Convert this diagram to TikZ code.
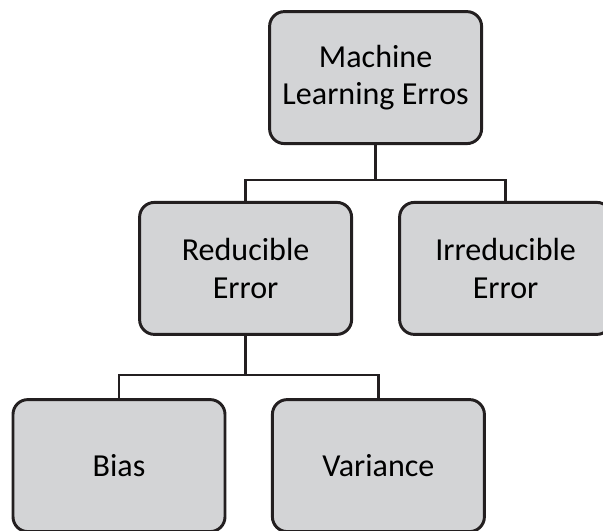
\documentclass[tikz,border=0pt]{standalone}
\usepackage{fontspec}
\setmainfont{Carlito}
\usepackage{xcolor}
\usepackage{tikz}
\definecolor{boxgray}{HTML}{D3D4D6}
\definecolor{boxline}{HTML}{231F20}
\tikzstyle{errbox}=[fill=boxgray, draw=boxline, line width=2.1pt, rounded corners=0.37cm, minimum width=5.3cm, minimum height=3.3cm, inner sep=0pt, align=center, font=\fontsize{22.8}{26.6}\selectfont]
\tikzstyle{tree edge}=[-, draw=boxline, line width=2.1pt]
\pgfdeclarelayer{nodelayer}
\pgfdeclarelayer{edgelayer}
\pgfsetlayers{edgelayer,nodelayer,main}

\begin{document}
\begin{tikzpicture}
        	\useasboundingbox (0, 0) rectangle (15.075, -13.25);
        	\begin{pgfonlayer}{nodelayer}
        		\node [style=errbox] (0) at (9.39, -1.94) {Machine\\Learning Erros};
        		\node [style=errbox] (1) at (6.14, -6.71) {Reducible\\Error};
        		\node [style=errbox] (2) at (12.64, -6.71) {Irreducible\\Error};
        		\node [style=errbox] (3) at (2.975, -11.64) {Bias};
        		\node [style=errbox] (4) at (9.46, -11.64) {Variance};
        		\coordinate (5) at (9.39, -4.5);
        		\coordinate (6) at (6.14, -9.375);
        	\end{pgfonlayer}
        	\begin{pgfonlayer}{edgelayer}
        		\draw [style=tree edge] (0) -- (5);
        		\draw [style=tree edge] (1.north) |- (5) -| (2.north);
        		\draw [style=tree edge] (1) -- (6);
        		\draw [style=tree edge] (3.north) |- (6) -| (4.north);
        	\end{pgfonlayer}
\end{tikzpicture}
\end{document}
